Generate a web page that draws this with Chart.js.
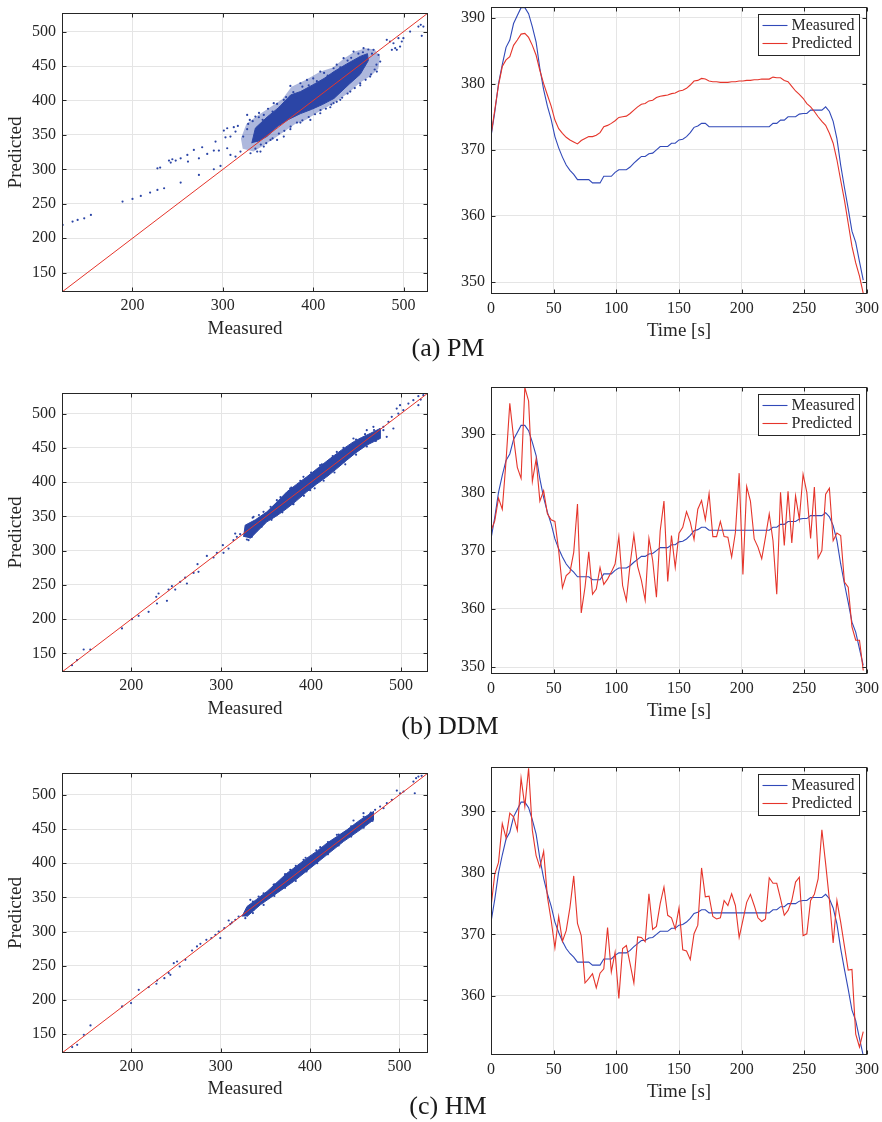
<!DOCTYPE html>
<html>
<head>
<meta charset="utf-8">
<script src="https://cdn.jsdelivr.net/npm/chart.js@4/dist/chart.umd.min.js"></script>
<style>
html,body{margin:0;padding:0;background:#fff;}
body{width:882px;height:1122px;position:relative;overflow:hidden;font-family:"Liberation Serif","Times New Roman",serif;}
.pane{position:absolute;}
.pane canvas{display:block;}
.cap{position:absolute;font-size:26px;line-height:26px;transform:translate(-50%,-50%);white-space:nowrap;color:#1a1a1a;z-index:5;}
</style>
</head>
<body>
<div class="pane" style="left:0;top:0;"><canvas id="pmScatter" width="440" height="345"></canvas></div>
<div class="pane" style="left:440px;top:0;"><canvas id="pmTime" width="442" height="350"></canvas></div>
<div class="pane" style="left:0;top:380px;"><canvas id="ddmScatter" width="440" height="345"></canvas></div>
<div class="pane" style="left:440px;top:380px;"><canvas id="ddmTime" width="442" height="350"></canvas></div>
<div class="pane" style="left:0;top:760px;"><canvas id="hmScatter" width="440" height="345"></canvas></div>
<div class="pane" style="left:440px;top:760px;"><canvas id="hmTime" width="442" height="350"></canvas></div>
<div class="cap" style="left:448px;top:348px;">(a) PM</div>
<div class="cap" style="left:450px;top:726px;">(b) DDM</div>
<div class="cap" style="left:448px;top:1106px;">(c) HM</div>
<script>
// ---------- tick labels ----------
const scatterXTicks = [200, 300, 400, 500];
const scatterYTicks = [150, 200, 250, 300, 350, 400, 450, 500];
const timeTicks = [0, 50, 100, 150, 200, 250, 300];
const pmValueTicks = [350, 360, 370, 380, 390];
const ddmValueTicks = [350, 360, 370, 380, 390];
const hmValueTicks = [360, 370, 380, 390];

// ---------- axis limits ----------
const pmScatterLimits = [122, 527];
const ddmScatterLimits = [123, 530];
const hmScatterLimits = [122.3, 532];
const timeLimits = [0, 300];
const pmValueLimits = [348.2, 391.6];
const ddmValueLimits = [348.8, 398.1];
const hmValueLimits = [350.4, 397.2];

// ---------- legend labels ----------
const seriesNames = ['Measured', 'Predicted'];

// ---------- time series ----------
const time = [0,3,6,9,12,15,18,21,24,27,30,33,36,39,42,45,48,51,54,57,60,63,66,69,72,75,78,81,84,87,90,93,96,99,102,105,108,111,114,117,120,123,126,129,132,135,138,141,144,147,150,153,156,159,162,165,168,171,174,177,180,183,186,189,192,195,198,201,204,207,210,213,216,219,222,225,228,231,234,237,240,243,246,249,252,255,258,261,264,267,270,273,276,279,282,285,288,291,294,297];

const measured = [
372.0,375.7,380.0,382.9,385.5,386.6,389.1,390.3,391.5,391.5,
390.6,388.6,386.3,382.3,379.1,376.6,374.6,372.0,370.3,368.9,
367.7,366.9,366.3,365.5,365.5,365.5,365.5,365.0,365.0,365.0,
366.0,366.0,366.0,366.6,367.0,367.0,367.0,367.4,368.0,368.5,
369.0,369.0,369.4,369.5,370.0,370.5,370.5,370.5,371.0,371.0,
371.5,371.6,372.0,372.6,373.4,373.6,374.0,374.0,373.5,373.5,
373.5,373.5,373.5,373.5,373.5,373.5,373.5,373.5,373.5,373.5,
373.5,373.5,373.5,373.5,373.5,374.0,374.0,374.5,374.5,375.0,
375.0,375.0,375.4,375.5,375.5,376.0,376.0,376.0,376.0,376.5,
375.8,374.3,371.7,367.7,364.3,361.1,357.7,356.0,353.1,350.3];

const pmPredicted = [
372.2,376.0,379.8,382.6,383.6,384.1,385.8,386.6,387.5,387.6,
387.0,385.8,384.3,382.0,380.0,378.3,376.6,374.5,373.2,372.5,
371.9,371.5,371.2,370.9,371.4,371.7,372.0,372.0,372.2,372.6,
373.5,373.7,374.0,374.4,374.9,375.0,375.1,375.5,376.0,376.5,
376.9,377.0,377.4,377.5,377.9,378.1,378.2,378.3,378.5,378.6,
378.9,379.0,379.3,379.8,380.4,380.5,380.8,380.7,380.4,380.3,
380.3,380.2,380.2,380.2,380.3,380.3,380.4,380.4,380.5,380.5,
380.6,380.6,380.7,380.7,380.7,381.0,380.9,380.9,380.5,380.3,
379.6,378.9,378.4,377.8,377.0,376.5,375.8,375.0,374.3,373.7,
372.5,371.0,368.5,365.4,362.4,358.9,355.4,352.9,350.9,348.3];

const ddmPredicted = [
373.4,375.1,379.0,377.1,385.4,395.3,389.4,384.3,382.4,398.0,
395.7,381.9,385.7,378.5,380.3,376.3,375.3,375.0,370.0,363.6,
365.7,366.3,369.7,378.0,359.3,363.7,369.8,362.5,363.4,367.1,
364.2,365.1,366.3,367.7,372.4,364.0,361.4,367.7,372.7,367.3,
364.9,361.5,372.1,368.3,362.0,373.4,378.5,364.7,372.6,367.1,
373.0,374.0,376.7,374.9,371.9,377.1,378.6,375.3,379.8,372.4,
372.4,375.0,372.4,372.3,368.9,373.1,383.3,365.9,381.0,378.5,
372.0,370.6,368.6,372.3,376.3,371.7,362.5,380.0,370.9,380.2,
371.3,379.4,375.4,383.1,380.0,372.1,380.9,368.7,370.0,379.7,
380.7,371.7,373.0,372.6,364.6,363.7,356.9,354.6,354.6,349.4];

const hmPredicted = [
374.4,379.8,381.7,388.0,385.7,389.7,389.1,386.9,395.4,390.8,
397.0,386.9,382.8,380.9,383.5,376.1,372.3,367.8,372.9,368.9,
370.6,374.4,379.5,371.8,369.8,362.1,362.8,363.6,361.3,363.7,
364.4,371.1,363.9,367.1,359.6,367.7,368.2,365.2,362.1,369.6,
369.5,368.8,376.6,370.8,371.3,375.0,377.7,373.1,372.7,370.9,
374.3,367.5,367.3,365.9,370.1,371.5,380.8,376.1,376.2,372.9,
372.5,372.7,375.5,374.7,376.6,374.7,369.5,372.3,375.2,376.5,
374.7,372.7,372.1,372.5,379.2,378.3,378.3,375.8,373.1,373.9,
375.5,378.5,379.3,369.8,370.1,375.5,376.5,379.0,387.0,381.5,
375.6,368.6,375.5,372.0,368.1,364.2,364.3,353.8,351.7,354.2];

// ---------- scatter: outline of dense point cloud, and individual points ----------
const pmCloudOuter = [[320,345],[326,366],[338,378],[352,390],[366,402],[376,420],[392,430],[408,442],[422,448],[434,461],[446,471],[458,476],[468,474],[474,464],[472,446],[464,436],[452,426],[440,412],[428,401],[416,391],[404,382],[392,372],[380,366],[368,355],[356,344],[344,334],[334,326],[322,330]];
const pmCloudCore = [[332,338],[336,360],[349,376],[362,390],[375,408],[386,413],[400,423],[412,432],[423,442],[437,453],[452,464],[460,468],[461,458],[452,438],[440,424],[423,403],[410,394],[398,387],[386,381],[372,372],[360,362],[349,348],[338,340]];
const pmPoints = [[122.7,219.3],[133.7,224.2],[139.3,226.6],[146.6,229],[154,233.9],[189,253.2],[200,257.1],[209.2,261.5],[219.5,266.3],[227.6,270.2],[235,272.6],
[227.6,301.6],[230.6,302.6],[240.4,312.8],[244.1,314.7],[247.8,312.8],[242.3,309.9],[253.3,316.1],[253.3,280.8],[260.7,321],[261.4,311.3],[267.9,328.2],[273.5,316.1],[273.5,291.9],[277.1,332.1],[282.7,322.4],[290,327.3],[290,300.2],[291.9,340.3],[295.6,327.3],[297.4,305],[301.1,356.3],[302.9,346.6],[304.8,359.7],[308.4,347.6],[312.1,361.2],[314,354.9],[316.6,363.1],[304.8,330.7],[314,318.6],[308.4,321],[319.5,325.8],[326.9,379.1],[329.8,371.8],[336,376.6],[339.8,375.7],[345.3,379.1],[326.9,358.3],[322.5,347.6],[330.6,323.4],[341.6,325.8],[352.7,342.8],[356.3,396.1],[367.4,400.9],[374.7,421.2],[385.8,425],[393.1,429.9],[407.8,442],[422.5,446.8],[433.6,461.4],[444.6,471],[455.7,475.9],[466.7,473.5],[472.3,466.2],[474.1,456.5],[470.4,442],[463,434.7],[452,425],[441,412.9],[429.9,400.9],[422.5,396.1],[418.9,390.2],[407.8,381.5],[396.8,371.8],[385.8,367.9],[374.7,358.3],[367.4,347.6],[360,342.8],[345.3,333.1],[338,325.8],
[328,366],[333,370],[340,382],[344,372],[350,388],[355,384],[360,395],[363,390],[370,405],[372,398],[378,412],[381,404],[388,420],[395,422],[400,432],[404,428],[412,440],[416,436],[426,452],[430,448],[438,458],[442,462],[450,468],[455,470],[461,474],[465,468],
[336,330],[342,336],[348,338],[355,345],[362,352],[368,356],[375,362],[382,368],[388,371],[395,376],[402,380],[408,386],[414,388],[420,394],[426,398],[432,404],[438,410],[446,418],[452,422],[458,430],[464,438],[468,445],[470,452],
[481.4,488],[485,485.6],[488.8,483.1],[492.5,473.5],[496.1,478.3],[494.3,490.4],[498,485.6],[499.8,490.4],[507.2,500.1],[516.4,507.3],[519,509.8],[521.9,507.3],[520.1,493.8],[527.4,501.5],[487,473.5],[490.7,475.9]];

const ddmCloudCore = [[324.9,320.2],[326.7,337.2],[338,345],[350.8,356.6],[362,371],[373,385.8],[384,397],[395.2,407.7],[408,421],[421.1,434.4],[434,447],[447,458.7],[456,465],[465.6,470.9],[476.7,478.2],[476.7,463.6],[461.9,453.9],[450,443],[439.7,432],[428,419],[417.4,407.7],[406,397],[395.2,385.8],[384,373],[373,361.5],[362,351],[350.8,342],[340,328],[332.3,317.7]];
const ddmPoints = [[123,126.7],[134.1,133],[147.1,155.8],[154.5,155.8],[139.7,140.3],[189.7,186.5],[200.8,200.1],[208.2,204.9],[219.3,210.8],[227.8,232.6],[230.4,237.5],[228.6,222.9],[239.7,226.8],[241.5,243.3],[245.2,248.2],[248.9,243.3],[254.5,254.5],[260,260.8],[261.9,252.1],[269.3,267.6],[273.7,280.3],[274.8,269.1],[284.1,292.4],[291.5,290],[295.2,296.8],[301.9,308],[302.6,296.8],[308.2,303.1],[313.7,315.3],[317.4,320.2],[321.1,324.1],[328.6,316.3],[315.6,325],
[336,349.3],[347.1,356.6],[361.9,373.6],[376.7,390.6],[391.5,407.7],[410,424.7],[428.6,444.1],[447.1,463.6],[461.9,475.7],[469.3,480.6],[480.4,475.7],[469.3,465],[454.5,451.4],[436,429.5],[417.4,410.1],[398.9,388.2],[380.4,367.8],[361.9,354.2],[347.1,339.6],[334.1,320.2],[330.4,315.3],
[335,348],[342,352],[355,364],[366,378],[378,392],[388,402],[400,414],[412,426],[424,438],[436,450],[450,462],[460,470],[470,476],
[333,322],[345,335],[356,345],[368,356],[380,368],[392,380],[404,391],[414,402],[426,414],[438,426],[450,440],[462,452],[472,460],
[480.4,480.6],[486,487.9],[489.7,495.2],[495.2,507.3],[498.9,512.2],[497,500],[502.6,504.9],[508.2,514.6],[513.7,519.5],[519.3,525.3],[521.9,520.4],[524.8,526.8],[491.5,478.2],[484.1,466],[519.3,512.2]];

const hmCloudCore = [[323.8,322],[329.4,336.7],[340,347],[351.7,358.6],[363,372],[374.1,385.4],[385,396],[396.4,407.4],[408,418],[418.8,429.3],[430,439],[441.2,448.8],[456.1,463.4],[471,475.6],[471,463.4],[456.1,448.8],[437.4,431.7],[418.8,412.2],[400.2,392.7],[381.5,373.2],[362.9,356.2],[344.3,339.1],[329.4,322]];
const hmPoints = [[133.7,130.9],[139.3,134.3],[146.7,149],[154.2,162.6],[189.6,190.4],[199.6,195.3],[208.2,214.8],[219.4,218.7],[228,223.6],[228.7,228.4],[236.9,231.8],[241.8,239.2],[243.6,236.7],[247.4,253.8],[251.1,256.2],[254.1,248.9],[260.4,258.7],[267.9,272.3],[273.4,278.2],[277.2,282.1],[283.9,287.9],[289.5,290.4],[294,295.2],[297.7,300.1],[299.5,290.4],[304,305],[308.9,316.2],[312.6,313.3],[316.3,317.2],[320,322],[310.7,310.9],
[333.1,346.4],[342.4,351.3],[359.2,368.4],[377.8,390.3],[392.7,405],[411.4,423.5],[430,441.5],[448.6,462.5],[459.8,473.2],[467.3,472.2],[463.5,459.5],[448.6,444.9],[431.9,429.3],[411.4,407.4],[392.7,387.8],[374.1,370.8],[355.5,351.3],[336.8,331.8],[327.5,319.6],
[336,344],[348,356],[360,369],[372,384],[384,396],[395,408],[407,419],[420,431],[432,442],[446,454],[460,468],[468,474],
[336,327],[348,339],[360,352],[372,364],[384,374],[396,388],[408,400],[420,413],[432,426],[446,439],[460,452],[470,462],
[478.4,482.9],[482.2,480.5],[485.9,487.8],[491.5,492.7],[497.1,506.3],[500.8,502.4],[504.6,504.9],[515.7,519.5],[518.7,524.4],[521.3,526.8],[517.2,502.4],[524.9,527.8],[472.8,478.1]];

// ---------- styling ----------
const BLUE_PTS = '#2b45a6';
const BLUE_FADE = 'rgba(43,69,166,0.38)';
const BLUE_LINE = '#3149b8';
const RED = '#e5352b';
const GRID = '#e5e5e5';
const INK = '#262626';
const FONT = "'Liberation Serif', 'Times New Roman', serif";

function toXY(pairs) { return pairs.map(p => ({x: p[0], y: p[1]})); }
function series(xs, ys) { return xs.map((x, i) => ({x: x, y: ys[i]})); }

const framePlugin = {
  id: 'frame',
  afterDatasetsDraw(chart, args, opts) {
    const ctx = chart.ctx, a = chart.chartArea;
    const xs = chart.scales.x, ys = chart.scales.y;
    const L = Math.round(a.left) + 0.5, R = Math.round(a.right) - 0.5;
    const T = Math.round(a.top) + 0.5, B = Math.round(a.bottom) - 0.5;
    ctx.save();
    ctx.strokeStyle = INK;
    ctx.lineWidth = 1;
    ctx.beginPath();
    xs.ticks.forEach(t => {
      const p = Math.round(xs.getPixelForValue(t.value)) + 0.5;
      ctx.moveTo(p, B); ctx.lineTo(p, B - 4);
      ctx.moveTo(p, T); ctx.lineTo(p, T + 4);
    });
    ys.ticks.forEach(t => {
      const p = Math.round(ys.getPixelForValue(t.value)) + 0.5;
      ctx.moveTo(L, p); ctx.lineTo(L + 4, p);
      ctx.moveTo(R, p); ctx.lineTo(R - 4, p);
    });
    ctx.stroke();
    ctx.strokeRect(L, T, R - L, B - T);
    ctx.restore();
    if (opts && opts.legend) {
      const bw = 101, bh = 41;
      const bx = Math.round(a.right - 8 - bw) + 0.5, by = Math.round(a.top + 7) + 0.5;
      ctx.save();
      ctx.fillStyle = '#ffffff';
      ctx.fillRect(bx, by, bw, bh);
      ctx.lineWidth = 1;
      ctx.strokeStyle = INK;
      ctx.strokeRect(bx, by, bw, bh);
      ctx.restore();
      seriesNames.forEach((name, i) => {
        const idx = chart.data.datasets.findIndex(d => d.label === name);
        const ds = chart.data.datasets[idx];
        const cy = Math.round(by + 10 + i * 18.7) + 0.5;
        ctx.save();
        ctx.lineWidth = 1.1;
        ctx.strokeStyle = ds.borderColor;
        ctx.beginPath();
        ctx.moveTo(bx + 4, cy);
        ctx.lineTo(bx + 29, cy);
        ctx.stroke();
        ctx.restore();
        ctx.save();
        ctx.font = '16px ' + FONT;
        ctx.textBaseline = 'middle';
        ctx.textAlign = 'left';
        ctx.fillStyle = INK;
        ctx.fillText(name, bx + 33, cy + 0.5);
        ctx.restore();
      });
    }
  }
};

function makeScale(tickValues, lim, o) {
  return {
    type: 'linear', min: lim[0], max: lim[1],
    afterBuildTicks: s => { s.ticks = tickValues.map(v => ({value: v})); },
    afterFit: s => {
      if (o.h != null) s.height = o.h;
      if (o.w != null) s.width = o.w;
      s.paddingTop = 0; s.paddingBottom = 0; s.paddingLeft = 0; s.paddingRight = 0;
    },
    grid: {color: GRID, lineWidth: 1, drawTicks: false},
    border: {display: false},
    ticks: {color: INK, font: {family: FONT, size: 16}, padding: o.pad, maxRotation: 0, autoSkip: false},
    title: o.title ? {display: true, text: o.title, color: INK, font: {family: FONT, size: 19}, padding: o.titlePad} : {display: false}
  };
}

function scatterChart(id, lim, outer, core, pts, xh) {
  const datasets = [
    {label: 'Ideal', data: [{x: lim[0], y: lim[0]}, {x: lim[1], y: lim[1]}], borderColor: RED, borderWidth: 1, pointRadius: 0, fill: false, tension: 0},
    {label: 'Samples', data: toXY(pts), showLine: false, pointRadius: 1.1, pointBorderWidth: 0, pointBackgroundColor: BLUE_PTS, backgroundColor: BLUE_PTS, borderColor: BLUE_PTS}
  ];
  if (core) datasets.push({label: 'Core', data: toXY(core), fill: 'shape', backgroundColor: BLUE_PTS, borderColor: BLUE_PTS, borderWidth: 1, pointRadius: 0, tension: 0});
  if (outer) datasets.push({label: 'Spread', data: toXY(outer), fill: 'shape', backgroundColor: BLUE_FADE, borderColor: 'rgba(0,0,0,0)', borderWidth: 1, pointRadius: 0, tension: 0});
  return new Chart(document.getElementById(id), {
    type: 'line',
    data: {datasets: datasets},
    options: {
      responsive: false, animation: false, events: [],
      layout: {padding: {top: 13, right: 12, left: 0, bottom: 0}},
      plugins: {legend: {display: false}, tooltip: {enabled: false}, frame: {legend: false}},
      scales: {
        x: makeScale(scatterXTicks, lim, {h: xh, pad: 4, title: 'Measured', titlePad: {top: 0, bottom: 5}}),
        y: makeScale(scatterYTicks, lim, {w: 62, pad: 6, title: 'Predicted', titlePad: {top: 5, bottom: 0}})
      }
    },
    plugins: [framePlugin]
  });
}

function timeChart(id, vlim, vticks, pred, xh, tpad) {
  return new Chart(document.getElementById(id), {
    type: 'line',
    data: {datasets: [
      {label: seriesNames[0], order: 1, data: series(time, measured), borderColor: BLUE_LINE, backgroundColor: BLUE_LINE, borderWidth: 1.1, pointRadius: 0, tension: 0, fill: false},
      {label: seriesNames[1], order: 0, data: series(time, pred), borderColor: RED, backgroundColor: RED, borderWidth: 1.1, pointRadius: 0, tension: 0, fill: false}
    ]},
    options: {
      responsive: false, animation: false, events: [],
      layout: {padding: {top: 7, right: 15, left: 0, bottom: 0}},
      plugins: {legend: {display: false}, tooltip: {enabled: false}, frame: {legend: true}},
      scales: {
        x: makeScale(timeTicks, timeLimits, {h: xh, pad: 5, title: 'Time [s]', titlePad: {top: 0, bottom: tpad}}),
        y: makeScale(vticks, vlim, {w: 51, pad: 6})
      }
    },
    plugins: [framePlugin]
  });
}

scatterChart('pmScatter', pmScatterLimits, pmCloudOuter, pmCloudCore, pmPoints, 53);
scatterChart('ddmScatter', ddmScatterLimits, null, ddmCloudCore, ddmPoints, 53);
scatterChart('hmScatter', hmScatterLimits, null, hmCloudCore, hmPoints, 52);
timeChart('pmTime', pmValueLimits, pmValueTicks, pmPredicted, 56, 7.6);
timeChart('ddmTime', ddmValueLimits, ddmValueTicks, ddmPredicted, 56, 7.6);
timeChart('hmTime', hmValueLimits, hmValueTicks, hmPredicted, 55, 6.9);
</script>
</body>
</html>
